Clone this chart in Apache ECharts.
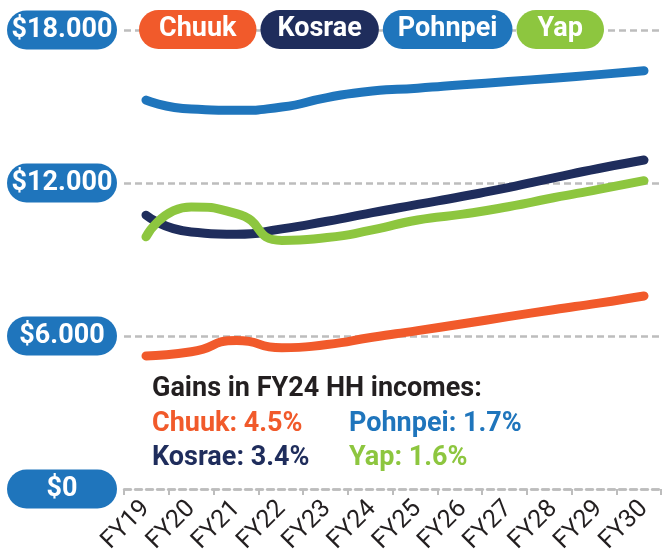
<!DOCTYPE html>
<html>
<head>
<meta charset="utf-8">
<script src="https://cdn.jsdelivr.net/npm/echarts@6/dist/echarts.min.js"></script>
<style>
  html, body { margin: 0; padding: 0; background: #ffffff; }
  #chart { width: 663px; height: 560px; }
</style>
</head>
<body>
<div id="chart"></div>
<script>
// Fiscal years on the x axis
const categories = ['FY19', 'FY20', 'FY21', 'FY22', 'FY23', 'FY24', 'FY25', 'FY26', 'FY27', 'FY28', 'FY29', 'FY30'];

// Household income per state (USD)
const chuuk   = [5220, 5380, 5820, 5540, 5670, 5950, 6210, 6480, 6760, 7030, 7290, 7570];
const kosrae  = [10740, 10080, 9990, 10200, 10500, 10840, 11160, 11480, 11820, 12200, 12570, 12900];
const pohnpei = [15250, 14900, 14850, 14980, 15350, 15610, 15720, 15850, 15980, 16110, 16250, 16400];
const yap     = [9890, 11060, 10800, 9750, 9860, 10160, 10550, 10780, 11070, 11420, 11750, 12090];

// Y axis range and tick step
const yMin = 0;
const yMax = 18000;
const yStep = 6000;

// FY24 gains shown in the note
const gains = [
  { name: 'Chuuk', value: '4.5%' },
  { name: 'Pohnpei', value: '1.7%' },
  { name: 'Kosrae', value: '3.4%' },
  { name: 'Yap', value: '1.6%' }
];

const colors = {
  Chuuk: '#F15A2B',
  Kosrae: '#1F2D5C',
  Pohnpei: '#1F75BC',
  Yap: '#8DC63F'
};

const FONT = 'Roboto, "DejaVu Sans", sans-serif';
const GRID_GRAY = '#BDBDBD';

function moneyLabel(v) {
  if (v === 0) return '$0';
  return '$' + (v / 1000) + '.000';
}

function legendItem(name, padX) {
  return {
    name: name,
    textStyle: {
      color: '#ffffff',
      fontFamily: FONT,
      fontWeight: 'bold',
      fontSize: 27,
      lineHeight: 27,
      backgroundColor: colors[name],
      borderRadius: 20,
      padding: [6, padX, 6, padX]
    }
  };
}

function seriesFor(name, data) {
  return {
    name: name,
    type: 'line',
    xAxisIndex: 0,
    yAxisIndex: 0,
    data: data,
    smooth: 0.6,
    symbol: 'none',
    lineStyle: { color: colors[name], width: 9, cap: 'round', join: 'round' },
    itemStyle: { color: colors[name] }
  };
}

const noteGraphics = [
  {
    type: 'text', left: 152, top: 376,
    style: { text: 'Gains in FY24 HH incomes:', fill: '#231F20', font: 'bold 27px ' + FONT }
  }
];
const notePos = [[152, 411], [349, 411], [152, 445], [349, 445]];
gains.forEach(function (g, i) {
  noteGraphics.push({
    type: 'text', left: notePos[i][0], top: notePos[i][1],
    style: { text: g.name + ': ' + g.value, fill: colors[g.name], font: 'bold 27px ' + FONT }
  });
});

const chart = echarts.init(document.getElementById('chart'), null, { renderer: 'canvas' });

chart.setOption({
  animation: false,
  backgroundColor: '#ffffff',
  color: [colors.Chuuk, colors.Kosrae, colors.Pohnpei, colors.Yap],
  grid: [
    // plotting area for the lines
    { left: 146, right: 19, top: 30, bottom: 71 },
    // frame carrying the y labels, gridlines and the tick row
    { left: 124, right: 2, top: 30, bottom: 71 }
  ],
  legend: {
    left: 134, top: 10,
    padding: 0,
    itemGap: -1,
    itemWidth: 0,
    itemHeight: 0,
    selectedMode: false,
    icon: 'rect',
    data: [
      legendItem('Chuuk', 20),
      legendItem('Kosrae', 17),
      legendItem('Pohnpei', 15),
      legendItem('Yap', 21)
    ]
  },
  xAxis: [
    {
      type: 'category', gridIndex: 0, data: categories, boundaryGap: false,
      axisLine: { show: false }, axisTick: { show: false }, splitLine: { show: false },
      axisLabel: {
        rotate: 45, margin: 16, interval: 0,
        color: '#231F20', fontFamily: FONT, fontSize: 25
      }
    },
    {
      type: 'category', gridIndex: 1, data: categories, boundaryGap: true,
      axisLine: { show: true, lineStyle: { color: GRID_GRAY, width: 2.5, type: [7, 4] } },
      axisTick: { show: true, length: 6, lineStyle: { color: GRID_GRAY, width: 2 } },
      axisLabel: { show: false },
      splitLine: { show: false }
    }
  ],
  yAxis: [
    {
      type: 'value', gridIndex: 0, min: yMin, max: yMax, interval: yStep,
      show: false
    },
    {
      type: 'value', gridIndex: 1, min: yMin, max: yMax, interval: yStep,
      axisLine: { show: false }, axisTick: { show: false },
      splitLine: { show: true, lineStyle: { color: GRID_GRAY, width: 2.5, type: [7, 4] } },
      axisLabel: {
        margin: 7,
        formatter: function (v) { return '{p|' + moneyLabel(v) + '}'; },
        rich: {
          p: {
            width: 110, height: 39, lineHeight: 39, align: 'center',
            backgroundColor: '#1F75BC', borderRadius: 19.5,
            color: '#ffffff', fontFamily: FONT, fontWeight: 'bold', fontSize: 27
          }
        }
      }
    }
  ],
  graphic: noteGraphics,
  series: [
    seriesFor('Chuuk', chuuk),
    seriesFor('Kosrae', kosrae),
    seriesFor('Pohnpei', pohnpei),
    seriesFor('Yap', yap)
  ]
});
</script>
</body>
</html>
